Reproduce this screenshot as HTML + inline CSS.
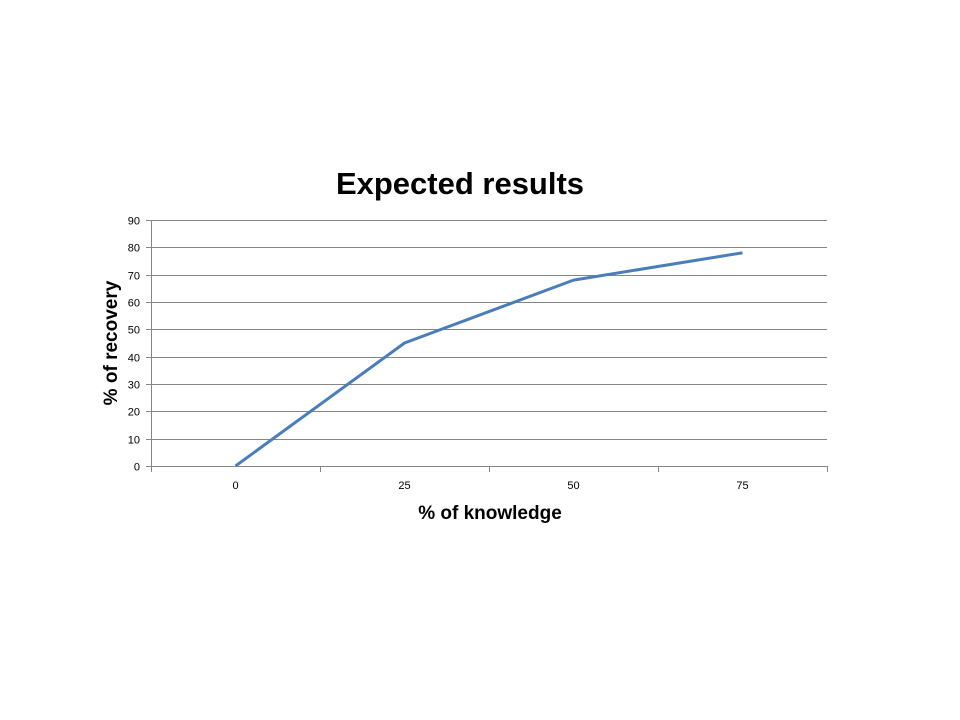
<!DOCTYPE html>
<html><head><meta charset="utf-8">
<style>
body{margin:0;background:#fff;}
svg{display:block;font-family:"Liberation Sans",Arial,sans-serif;}
</style></head>
<body>
<svg id="chart" width="960" height="720">
<text x="460" y="194" text-anchor="middle" font-size="31" font-weight="bold" fill="#000">Expected results</text>
<text x="490" y="519" text-anchor="middle" font-size="19" font-weight="bold" fill="#000">% of knowledge</text>
<text transform="translate(117,343) rotate(-90)" text-anchor="middle" font-size="19" font-weight="bold" fill="#000">% of recovery</text>
<g id="grid"></g><g id="axes"></g><g id="series"></g>
</svg>
<script>
const categories = ["0","25","50","75"];
const recovery = [0,45,68,78];
const yTicks = [0,10,20,30,40,50,60,70,80,90];
const X0=151,X1=827,Y0=466,Y1=220,YMAX=90;
const ns="http://www.w3.org/2000/svg";
const bw=(X1-X0)/categories.length;
const xPos=i=>X0+bw*(i+0.5);
const yPos=v=>Y0-(v/YMAX)*(Y0-Y1);
function mk(tag,attrs,parent){const e=document.createElementNS(ns,tag);for(const k in attrs)e.setAttribute(k,attrs[k]);parent.appendChild(e);return e;}
const grid=document.getElementById('grid'),axes=document.getElementById('axes'),series=document.getElementById('series');
yTicks.forEach(t=>{
  const y=Math.round(yPos(t))+0.5;
  if(t>0){const g=mk('line',{x1:X0,x2:X1,y1:y,y2:y,stroke:'#868686','stroke-width':1},grid);
  
  }
  const tk=mk('line',{x1:X0-5,x2:X0,y1:y,y2:y,stroke:'#868686'},axes);
  
  
  const tx=mk('text',{x:X0-11,y:y+4,'text-anchor':'end','font-size':11,fill:'#000'},axes);
  tx.textContent=t;
  
  
});
const ya=mk('line',{x1:X0+0.5,x2:X0+0.5,y1:Y1,y2:Y0,stroke:'#868686'},axes);


const xa=mk('line',{x1:X0,x2:X1,y1:Y0+0.5,y2:Y0+0.5,stroke:'#868686'},axes);


for(let i=0;i<=categories.length;i++){
  const x=Math.round(X0+bw*i)+0.5;
  const tk=mk('line',{x1:x,x2:x,y1:Y0,y2:Y0+6,stroke:'#868686'},axes);
  
  
}
categories.forEach((c,i)=>{
  const tx=mk('text',{x:xPos(i),y:489,'text-anchor':'middle','font-size':11,fill:'#000'},axes);
  tx.textContent=c;
  
  
});
const pts=recovery.map((v,i)=>xPos(i)+','+yPos(v)).join(' ');
const pl=mk('polyline',{points:pts,fill:'none',stroke:'#4a7ebb','stroke-width':3,'stroke-linejoin':'round'},series);


</script>
</body></html>
